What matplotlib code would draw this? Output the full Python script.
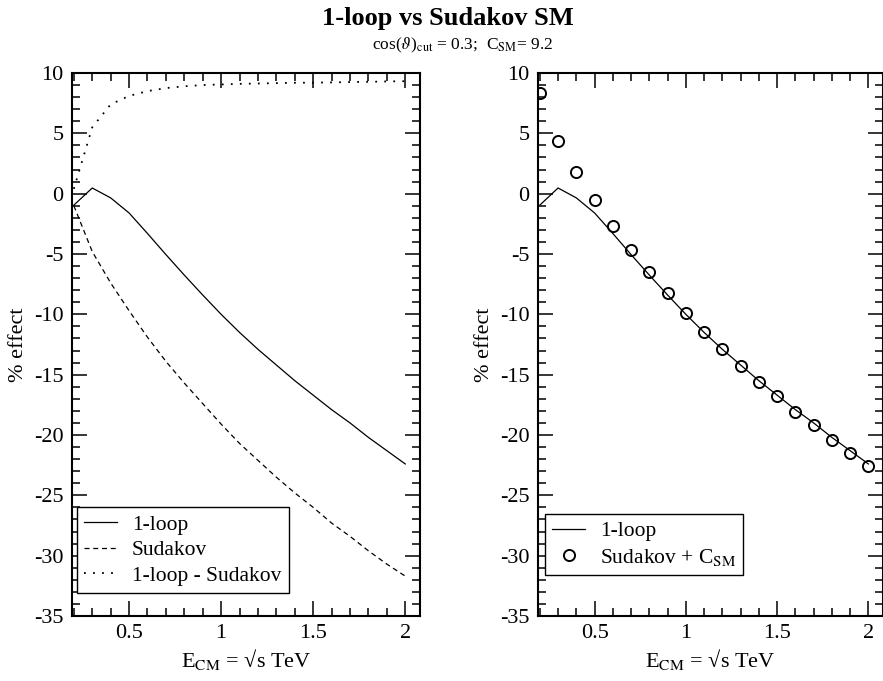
import matplotlib
matplotlib.use("Agg")
import matplotlib.pyplot as plt
from matplotlib.ticker import MultipleLocator, FormatStrFormatter

plt.rcParams['font.family'] = ['Liberation Serif', 'DejaVu Serif']
plt.rcParams['mathtext.fontset'] = 'stix'
plt.rcParams['axes.unicode_minus'] = False

# data
energy = [0.2, 0.3, 0.4, 0.5, 0.6, 0.7, 0.8, 0.9, 1.0, 1.1,
          1.2, 1.3, 1.4, 1.5, 1.6, 1.7, 1.8, 1.9, 2.0]
one_loop = [-0.95, 0.47, -0.35, -1.6, -3.3, -5.05, -6.75, -8.4, -10.0, -11.5,
            -12.9, -14.2, -15.5, -16.7, -17.9, -19.0, -20.2, -21.3, -22.4]
sudakov = [-1.0, -4.8, -7.4, -9.7, -11.9, -13.9, -15.7, -17.4, -19.1, -20.7,
           -22.1, -23.5, -24.8, -26.0, -27.3, -28.4, -29.6, -30.7, -31.7]
loop_minus_sudakov = [0.4, 5.5, 7.4, 8.1, 8.5, 8.75, 8.9, 9.0, 9.05, 9.1,
                      9.13, 9.16, 9.19, 9.2, 9.22, 9.25, 9.27, 9.3, 9.32]
sudakov_plus_csm = [8.34, 4.37, 1.8, -0.52, -2.68, -4.66, -6.49, -8.2, -9.9, -11.5,
                    -12.9, -14.3, -15.6, -16.8, -18.1, -19.2, -20.4, -21.5, -22.6]

W, H = 883, 681
fig = plt.figure(figsize=(W / 100, H / 100), dpi=100)

ax1 = fig.add_axes([72 / W, 1 - 616 / H, 348 / W, 543 / H])
ax2 = fig.add_axes([538 / W, 1 - 616 / H, 345 / W, 543 / H])

ax1.plot(energy, one_loop, color='black', lw=0.9, label='1-loop')
ax1.plot(energy, sudakov, color='black', lw=0.9, dashes=(4, 3), label='Sudakov')
ax1.plot(energy, loop_minus_sudakov, color='black', lw=1.3, dashes=(1, 4), label='1-loop - Sudakov')

ax2.plot(energy, one_loop, color='black', lw=0.9, label='1-loop')
ax2.plot(energy, sudakov_plus_csm, ls='none', marker='o', ms=8, mfc='none', mec='black',
         mew=1.4, label=r'Sudakov + C$_{\mathrm{SM}}$')

for ax in (ax1, ax2):
    ax.set_xlim(0.19, 2.08)
    ax.set_ylim(-35, 10)
    ax.xaxis.set_major_locator(MultipleLocator(0.5))
    ax.xaxis.set_minor_locator(MultipleLocator(0.1))
    ax.yaxis.set_major_locator(MultipleLocator(5))
    ax.yaxis.set_minor_locator(MultipleLocator(1))
    ax.xaxis.set_major_formatter(FormatStrFormatter('%g'))
    ax.yaxis.set_major_formatter(FormatStrFormatter('%g'))
    ax.tick_params(which='both', direction='in', top=True, right=True, width=1.1, labelsize=16)
    ax.tick_params(which='major', length=11, pad=6)
    ax.tick_params(which='minor', length=5.5)
    for sp in ax.spines.values():
        sp.set_linewidth(1.5)
    ax.set_xlabel(r'E$_{\mathrm{CM}}$ = √s TeV', fontsize=16, labelpad=3)
    ax.set_ylabel('% effect', fontsize=16, labelpad=4)

leg_style = dict(loc='lower left', borderaxespad=0, fontsize=15.5, fancybox=False,
                 framealpha=1, edgecolor='black', handlelength=1.5, handletextpad=0.7,
                 labelspacing=0.25, borderpad=0.35)
leg1 = ax1.legend(bbox_to_anchor=(0.014, 0.042), **leg_style)
leg1.get_frame().set_linewidth(1.0)
leg2 = ax2.legend(bbox_to_anchor=(0.02, 0.075), **leg_style)
leg2.get_frame().set_linewidth(1.0)

fig.text(448 / W, 1 - 19 / H, '1-loop vs Sudakov SM', ha='center', va='center',
         fontsize=19, fontweight='bold')
fig.text(463 / W, 1 - 45 / H, r'cos($\vartheta$)$_{\mathrm{cut}}$ = 0.3;  C$_{\mathrm{SM}}$= 9.2',
         ha='center', va='center', fontsize=12.5)

fig.savefig('out.png', dpi=100)
